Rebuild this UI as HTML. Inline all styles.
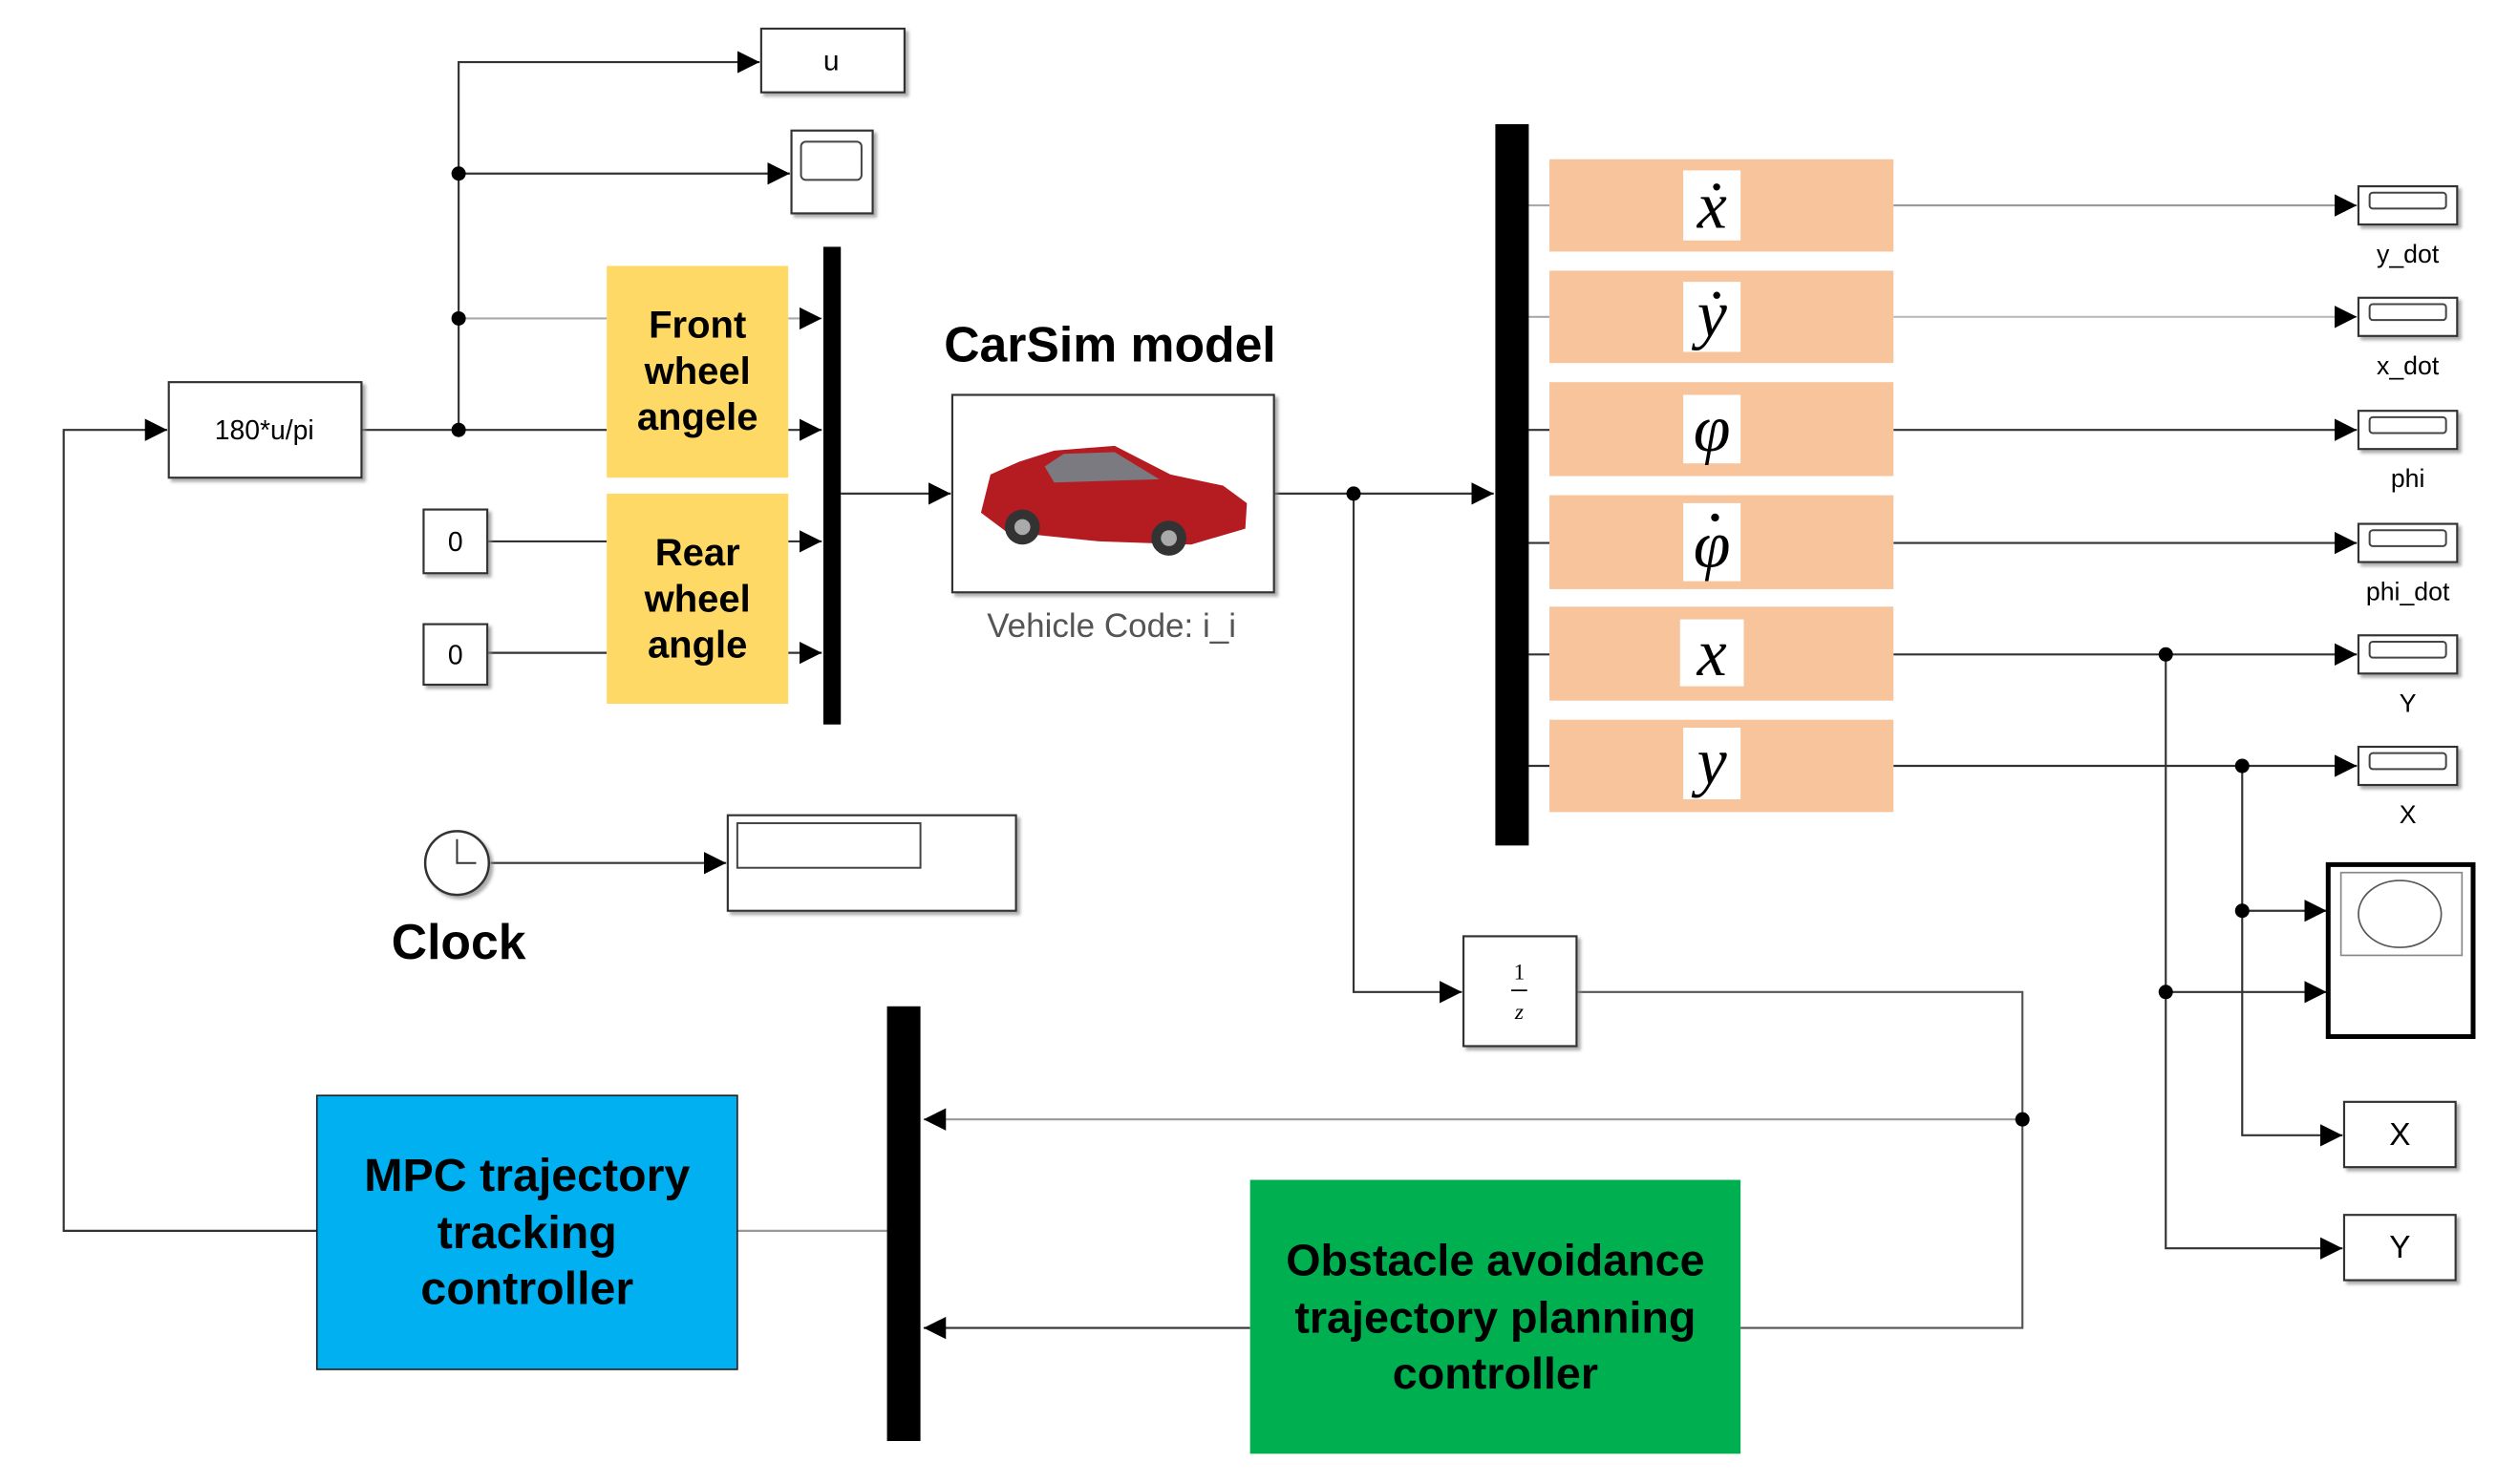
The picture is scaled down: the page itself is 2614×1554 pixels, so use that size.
<!DOCTYPE html>
<html><head><meta charset="utf-8"><style>
html,body{margin:0;padding:0;background:#fff;}
svg{display:block;}
</style></head><body>
<svg width="2614" height="1554" viewBox="0 0 1568 932" preserveAspectRatio="none" xmlns="http://www.w3.org/2000/svg">
<defs>
<marker id="a" viewBox="0 0 10 10" refX="10" refY="5" markerWidth="14" markerHeight="14" markerUnits="userSpaceOnUse" orient="auto"><path d="M0,0 L10,5 L0,10 z" fill="#000"/></marker>
<filter id="sh" x="-10%" y="-10%" width="130%" height="130%"><feDropShadow dx="2" dy="2" stdDeviation="1" flood-color="#888" flood-opacity="0.7"/></filter>
</defs>
<g fill="none" stroke="#333" stroke-width="1.3">
<polyline points="199,773 40,773 40,270 105,270" marker-end="url(#a)"/>
<line x1="227" y1="270" x2="381" y2="270"/>
<polyline points="288,270 288,39 477,39" marker-end="url(#a)"/>
<line x1="288" y1="109" x2="496" y2="109" marker-end="url(#a)"/>
<line x1="288" y1="200" x2="381" y2="200" stroke="#aaa"/>
<line x1="495" y1="200" x2="516" y2="200" stroke="#aaa" marker-end="url(#a)"/>
<line x1="495" y1="270" x2="516" y2="270" marker-end="url(#a)"/>
<line x1="306" y1="340" x2="381" y2="340"/>
<line x1="306" y1="410" x2="381" y2="410"/>
<line x1="495" y1="340" x2="516" y2="340" marker-end="url(#a)"/>
<line x1="495" y1="410" x2="516" y2="410" marker-end="url(#a)"/>
<line x1="528" y1="310" x2="597" y2="310" marker-end="url(#a)"/>
<line x1="800" y1="310" x2="938" y2="310" marker-end="url(#a)"/>
<polyline points="850,310 850,623 918,623" marker-end="url(#a)"/>
<polyline points="990,623 1270,623 1270,834 1093,834" stroke="#555"/>
<line x1="1270" y1="703" x2="580" y2="703" stroke="#999" marker-end="url(#a)"/>
<line x1="785" y1="834" x2="580" y2="834" marker-end="url(#a)"/>
<line x1="463" y1="773" x2="557" y2="773" stroke="#999"/>
<line x1="308" y1="542" x2="456" y2="542" marker-end="url(#a)"/>
<g stroke="#aaa"><line x1="960" y1="129" x2="973" y2="129"/><line x1="960" y1="199" x2="973" y2="199"/></g>
<line x1="960" y1="270" x2="973" y2="270"/><line x1="960" y1="341" x2="973" y2="341"/>
<line x1="960" y1="411" x2="973" y2="411"/><line x1="960" y1="481" x2="973" y2="481"/>
<line x1="1189" y1="129" x2="1480" y2="129" stroke="#999" marker-end="url(#a)"/>
<line x1="1189" y1="199" x2="1480" y2="199" stroke="#bbb" marker-end="url(#a)"/>
<line x1="1189" y1="270" x2="1480" y2="270" marker-end="url(#a)"/>
<line x1="1189" y1="341" x2="1480" y2="341" marker-end="url(#a)"/>
<line x1="1189" y1="411" x2="1480" y2="411" marker-end="url(#a)"/>
<line x1="1189" y1="481" x2="1480" y2="481" marker-end="url(#a)"/>
<polyline points="1360,411 1360,784 1471,784" marker-end="url(#a)"/>
<polyline points="1408,481 1408,713 1471,713" marker-end="url(#a)"/>
<line x1="1408" y1="572" x2="1461" y2="572" marker-end="url(#a)"/>
<line x1="1360" y1="623" x2="1461" y2="623" marker-end="url(#a)"/>
</g>
<g fill="#000">
<circle cx="288" cy="109" r="4.5"/><circle cx="288" cy="200" r="4.5"/><circle cx="288" cy="270" r="4.5"/>
<circle cx="850" cy="310" r="4.5"/><circle cx="1270" cy="703" r="4.5"/>
<circle cx="1360" cy="411" r="4.5"/><circle cx="1408" cy="481" r="4.5"/><circle cx="1408" cy="572" r="4.5"/><circle cx="1360" cy="623" r="4.5"/>
</g>
<g fill="#fff" stroke="#333" stroke-width="1.3" filter="url(#sh)">
<rect x="478" y="18" width="90" height="40"/>
<rect x="497" y="82" width="51" height="52"/>
<rect x="106" y="240" width="121" height="60"/>
<rect x="266" y="320" width="40" height="40"/>
<rect x="266" y="392" width="40" height="38"/>
<rect x="598" y="248" width="202" height="124"/>
<rect x="457" y="512" width="181" height="60"/>
<rect x="919" y="588" width="71" height="69"/>
<rect x="1472" y="692" width="70" height="41"/>
<rect x="1472" y="763" width="70" height="41"/>
<rect x="1481" y="117" width="62" height="24"/><rect x="1481" y="187" width="62" height="24"/>
<rect x="1481" y="258" width="62" height="24"/><rect x="1481" y="329" width="62" height="24"/>
<rect x="1481" y="399" width="62" height="24"/><rect x="1481" y="469" width="62" height="24"/>
</g>
<g fill="none" stroke="#444" stroke-width="1.2">
<rect x="503" y="89" width="38" height="24" rx="3"/>
<rect x="463" y="517" width="115" height="28"/>
<rect x="1488" y="121" width="48" height="10" rx="2"/><rect x="1488" y="191" width="48" height="10" rx="2"/>
<rect x="1488" y="262" width="48" height="10" rx="2"/><rect x="1488" y="333" width="48" height="10" rx="2"/>
<rect x="1488" y="403" width="48" height="10" rx="2"/><rect x="1488" y="473" width="48" height="10" rx="2"/>
</g>
<rect x="1462" y="543" width="91" height="108" fill="#fff" stroke="#000" stroke-width="3"/>
<rect x="1470" y="548" width="76" height="52" fill="#fff" stroke="#888" stroke-width="1"/>
<ellipse cx="1507" cy="574" rx="26" ry="21" fill="none" stroke="#555" stroke-width="1"/>
<circle cx="287" cy="542" r="20" fill="#fff" stroke="#333" stroke-width="1.5" filter="url(#sh)"/>
<polyline points="287,527 287,542 299,542" fill="none" stroke="#333" stroke-width="1.2"/>
<rect x="517" y="155" width="11" height="300" fill="#000"/>
<rect x="939" y="78" width="21" height="453" fill="#000"/>
<rect x="557" y="632" width="21" height="273" fill="#000"/>
<rect x="381" y="167" width="114" height="133" fill="#ffd966"/>
<rect x="381" y="310" width="114" height="132" fill="#ffd966"/>
<g fill="#f8c49c">
<rect x="973" y="100" width="216" height="58"/><rect x="973" y="170" width="216" height="58"/>
<rect x="973" y="240" width="216" height="59"/><rect x="973" y="311" width="216" height="59"/>
<rect x="973" y="381" width="216" height="59"/><rect x="973" y="452" width="216" height="58"/>
</g>
<g fill="#fff">
<rect x="1057" y="107" width="36" height="44"/><rect x="1057" y="177" width="36" height="44"/>
<rect x="1057" y="248" width="36" height="43"/><rect x="1057" y="316" width="36" height="49"/>
<rect x="1055" y="389" width="40" height="42"/><rect x="1057" y="457" width="36" height="45"/>
</g>
<rect x="199" y="688" width="264" height="172" fill="#00b0f0" stroke="#222" stroke-width="1"/>
<rect x="785" y="741" width="308" height="172" fill="#00b050"/>
<g>
<path d="M616,322 L622,298 L640,290 L662,283 L700,280 L735,298 L768,305 L783,316 L782,332 L748,342 L690,340 L632,334 Z" fill="#b51c22"/>
<path d="M656,293 L668,285 L700,284 L728,301 L662,303 Z" fill="#7a7a80"/>
<circle cx="642" cy="331" r="11" fill="#333"/><circle cx="642" cy="331" r="5" fill="#aaa"/>
<circle cx="734" cy="338" r="11" fill="#333"/><circle cx="734" cy="338" r="5" fill="#aaa"/>
</g>
<g font-family="Liberation Sans, sans-serif" text-anchor="middle">
<text x="522" y="44" font-size="18">u</text>
<text x="166" y="276" font-size="17">180*u/pi</text>
<text x="286" y="346" font-size="17">0</text>
<text x="286" y="417" font-size="17">0</text>
<text x="698" y="400" font-size="21" fill="#555">Vehicle Code: i_i</text>
<text x="1507" y="719" font-size="20">X</text>
<text x="1507" y="790" font-size="20">Y</text>
<g font-size="16"><text x="1512" y="165">y_dot</text><text x="1512" y="235">x_dot</text><text x="1512" y="306">phi</text><text x="1512" y="377">phi_dot</text><text x="1512" y="447">Y</text><text x="1512" y="517">X</text></g>
<g font-family="Liberation Serif, serif" font-style="italic" font-size="42">
<text x="1075" y="143">ẋ</text><text x="1075" y="211">ẏ</text><text x="1075" y="283">φ</text><text x="1075" y="356">φ</text><text x="1075" y="424">x</text><text x="1075" y="492">y</text>
</g>
<circle cx="1077" cy="325" r="2.5" fill="#000"/>
<g font-family="Liberation Serif, serif" font-size="14"><text x="954" y="615">1</text><text x="954" y="640" font-style="italic">z</text></g>
<line x1="949" y1="622" x2="959" y2="622" stroke="#000" stroke-width="1"/>
<g font-weight="bold">
<text x="697" y="227" font-size="31">CarSim model</text>
<text x="288" y="602" font-size="31">Clock</text>
<g font-size="24"><text x="438" y="212">Front</text><text x="438" y="241">wheel</text><text x="438" y="270">angele</text>
<text x="438" y="355">Rear</text><text x="438" y="384">wheel</text><text x="438" y="413">angle</text></g>
<g font-size="29"><text x="331" y="748">MPC trajectory</text><text x="331" y="784">tracking</text><text x="331" y="819">controller</text>
<text x="939" y="801" font-size="28">Obstacle avoidance</text><text x="939" y="837" font-size="28">trajectory planning</text><text x="939" y="872" font-size="28">controller</text></g>
</g>
</g>
</svg>
</body></html>
